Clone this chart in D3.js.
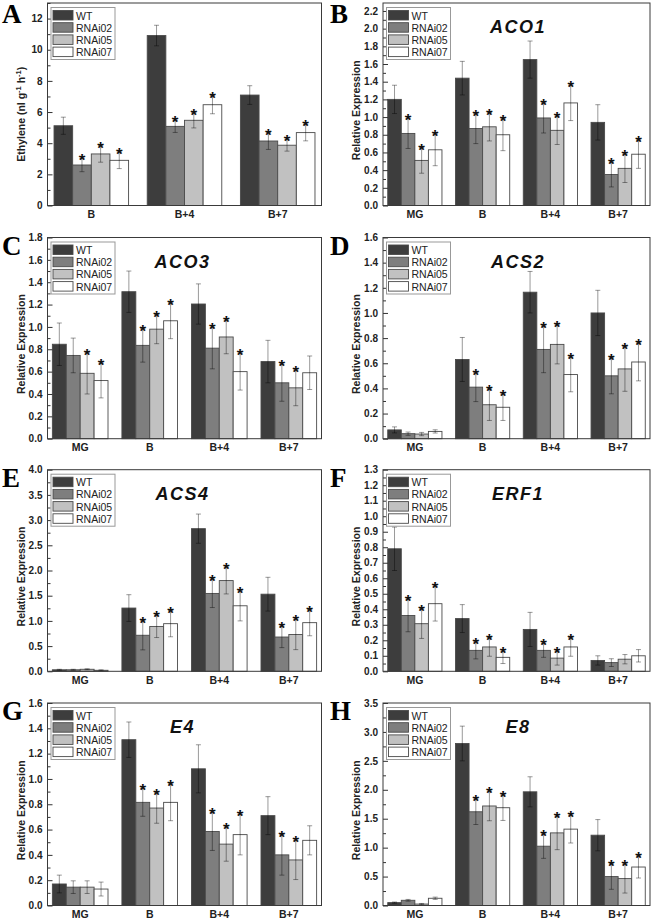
<!DOCTYPE html>
<html>
<head>
<meta charset="utf-8">
<script src="https://cdn.jsdelivr.net/npm/d3@7/dist/d3.min.js"></script>
<style>
  body { margin: 0; background: #fff; }
  svg text { font-family: "Liberation Sans", Arial, sans-serif; }
</style>
</head>
<body>
<div id="chart"></div>
<script>
// ---- data ----
var series = ["WT", "RNAi02", "RNAi05", "RNAi07"];
var cats3 = ["B", "B+4", "B+7"];
var cats4 = ["MG", "B", "B+4", "B+7"];

// rows = series (WT, RNAi02, RNAi05, RNAi07), columns = categories
var ethyleneMean = [[5.12, 10.91, 7.09], [2.60, 5.08, 4.14], [3.31, 5.47, 3.87], [2.90, 6.47, 4.68]];
var ethyleneErr  = [[0.55, 0.66, 0.60], [0.43, 0.39, 0.54], [0.53, 0.49, 0.38], [0.53, 0.58, 0.53]];
var ethyleneStar = [[0, 0, 0], [1, 1, 1], [1, 1, 1], [1, 1, 1]];
var ethyleneTicks = [0, 2, 4, 6, 8, 10, 12];

var aco1Mean = [[1.20, 1.44, 1.65, 0.94], [0.815, 0.87, 0.99, 0.35], [0.51, 0.89, 0.85, 0.42], [0.63, 0.80, 1.16, 0.58]];
var aco1Err  = [[0.16, 0.19, 0.21, 0.20], [0.17, 0.17, 0.17, 0.14], [0.145, 0.16, 0.16, 0.16], [0.18, 0.18, 0.20, 0.16]];
var aco1Star = [[0, 0, 0, 0], [1, 1, 1, 1], [1, 1, 1, 1], [1, 1, 1, 1]];
var aco1Ticks = [0, 0.2, 0.4, 0.6, 0.8, 1.0, 1.2, 1.4, 1.6, 1.8, 2.0, 2.2];

var aco3Mean = [[0.845, 1.315, 1.205, 0.69], [0.745, 0.835, 0.81, 0.50], [0.585, 0.98, 0.91, 0.455], [0.52, 1.055, 0.60, 0.59]];
var aco3Err  = [[0.19, 0.185, 0.18, 0.19], [0.155, 0.15, 0.185, 0.165], [0.185, 0.13, 0.15, 0.16], [0.155, 0.16, 0.165, 0.15]];
var aco3Star = [[0, 0, 0, 0], [0, 1, 1, 1], [1, 1, 1, 1], [1, 1, 1, 0]];
var aco3Ticks = [0, 0.2, 0.4, 0.6, 0.8, 1.0, 1.2, 1.4, 1.6, 1.8];

var acs2Mean = [[0.07, 0.63, 1.165, 1.0], [0.04, 0.41, 0.71, 0.50], [0.037, 0.27, 0.75, 0.555], [0.058, 0.25, 0.51, 0.61]];
var acs2Err  = [[0.024, 0.175, 0.165, 0.18], [0.013, 0.115, 0.185, 0.143], [0.013, 0.125, 0.155, 0.178], [0.013, 0.105, 0.137, 0.15]];
var acs2Star = [[0, 0, 0, 0], [0, 1, 1, 1], [0, 1, 1, 1], [0, 1, 1, 1]];
var acs2Ticks = [0, 0.2, 0.4, 0.6, 0.8, 1.0, 1.2, 1.4, 1.6];

var acs4Mean = [[0.03, 1.255, 2.83, 1.53], [0.03, 0.715, 1.545, 0.68], [0.04, 0.89, 1.80, 0.73], [0.02, 0.945, 1.30, 0.965]];
var acs4Err  = [[0.01, 0.265, 0.29, 0.335], [0.01, 0.29, 0.28, 0.21], [0.01, 0.22, 0.265, 0.30], [0.01, 0.26, 0.30, 0.26]];
var acs4Star = [[0, 0, 0, 0], [0, 1, 1, 1], [0, 1, 1, 1], [0, 1, 1, 1]];
var acs4Ticks = [0, 0.5, 1.0, 1.5, 2.0, 2.5, 3.0, 3.5, 4.0];

var erf1Mean = [[0.79, 0.34, 0.27, 0.07], [0.36, 0.135, 0.135, 0.056], [0.307, 0.157, 0.085, 0.078], [0.436, 0.09, 0.157, 0.10]];
var erf1Err  = [[0.14, 0.09, 0.11, 0.03], [0.105, 0.055, 0.045, 0.025], [0.095, 0.06, 0.045, 0.03], [0.112, 0.04, 0.06, 0.04]];
var erf1Star = [[0, 0, 0, 0], [1, 1, 1, 0], [1, 1, 1, 0], [1, 1, 1, 0]];
var erf1Ticks = [0, 0.1, 0.2, 0.3, 0.4, 0.5, 0.6, 0.7, 0.8, 0.9, 1.0, 1.1, 1.2, 1.3];

var e4Mean = [[0.17, 1.31, 1.08, 0.71], [0.145, 0.815, 0.585, 0.40], [0.145, 0.77, 0.485, 0.36], [0.13, 0.815, 0.56, 0.515]];
var e4Err  = [[0.07, 0.14, 0.19, 0.15], [0.05, 0.11, 0.15, 0.16], [0.05, 0.12, 0.135, 0.155], [0.055, 0.145, 0.16, 0.115]];
var e4Star = [[0, 0, 0, 0], [0, 1, 1, 1], [0, 1, 1, 1], [0, 1, 1, 0]];
var e4Ticks = [0, 0.2, 0.4, 0.6, 0.8, 1.0, 1.2, 1.4, 1.6];

var e8Mean = [[0.05, 2.80, 1.965, 1.215], [0.09, 1.62, 1.025, 0.50], [0.025, 1.72, 1.255, 0.465], [0.125, 1.69, 1.32, 0.665]];
var e8Err  = [[0.01, 0.30, 0.26, 0.27], [0.015, 0.22, 0.21, 0.22], [0.01, 0.255, 0.29, 0.25], [0.02, 0.22, 0.24, 0.19]];
var e8Star = [[0, 0, 0, 0], [0, 1, 1, 1], [0, 1, 1, 1], [0, 1, 1, 1]];
var e8Ticks = [0, 0.5, 1.0, 1.5, 2.0, 2.5, 3.0, 3.5];

// ---- layout ----
var width = 657, height = 920;
var colX = [[47.5, 321.5], [383, 650]];
var rowY = [[3, 205.5], [237.5, 438.7], [469.7, 671.3], [703, 905.5]];
var colors = d3.scaleOrdinal().domain(series).range(["#3d3d3d", "#7e7e7e", "#c1c1c1", "#ffffff"]);

var svg = d3.select("#chart").append("svg")
    .attr("width", width)
    .attr("height", height);

var panels = [
  {letter: "A", col: 0, row: 0, cats: cats3, mean: ethyleneMean, err: ethyleneErr, star: ethyleneStar, ticks: ethyleneTicks, yMax: 13, gene: null, fmt: d3.format("d")},
  {letter: "B", col: 1, row: 0, cats: cats4, mean: aco1Mean, err: aco1Err, star: aco1Star, ticks: aco1Ticks, yMax: 2.29, gene: "ACO1"},
  {letter: "C", col: 0, row: 1, cats: cats4, mean: aco3Mean, err: aco3Err, star: aco3Star, ticks: aco3Ticks, yMax: 1.8, gene: "ACO3"},
  {letter: "D", col: 1, row: 1, cats: cats4, mean: acs2Mean, err: acs2Err, star: acs2Star, ticks: acs2Ticks, yMax: 1.6, gene: "ACS2"},
  {letter: "E", col: 0, row: 2, cats: cats4, mean: acs4Mean, err: acs4Err, star: acs4Star, ticks: acs4Ticks, yMax: 4.0, gene: "ACS4"},
  {letter: "F", col: 1, row: 2, cats: cats4, mean: erf1Mean, err: erf1Err, star: erf1Star, ticks: erf1Ticks, yMax: 1.3, gene: "ERF1"},
  {letter: "G", col: 0, row: 3, cats: cats4, mean: e4Mean, err: e4Err, star: e4Star, ticks: e4Ticks, yMax: 1.6, gene: "E4"},
  {letter: "H", col: 1, row: 3, cats: cats4, mean: e8Mean, err: e8Err, star: e8Star, ticks: e8Ticks, yMax: 3.5, gene: "E8"}
];

panels.forEach(drawPanel);

function drawPanel(p) {
    var left = colX[p.col][0], right = colX[p.col][1];
    var top = rowY[p.row][0], bottom = rowY[p.row][1];
    var fmt = p.fmt || d3.format(".1f");

    var x0 = d3.scaleBand().domain(p.cats).range([left, right]).paddingInner(0.2).paddingOuter(0.07);
    var x1 = d3.scaleBand().domain(series).range([0, x0.bandwidth()]);
    var y = d3.scaleLinear().domain([0, p.yMax]).range([bottom, top]);

    var g = svg.append("g").attr("class", "panel");

    // flatten data
    var rows = [];
    series.forEach(function(s, si) {
        p.cats.forEach(function(c, ci) {
            rows.push({s: s, c: c, v: p.mean[si][ci], e: p.err[si][ci], star: p.star[si][ci]});
        });
    });

    // bars
    g.selectAll(".bar")
        .data(rows)
      .enter().append("rect")
        .attr("class", "bar")
        .attr("x", function(d) { return x0(d.c) + x1(d.s); })
        .attr("width", x1.bandwidth())
        .attr("y", function(d) { return y(d.v); })
        .attr("height", function(d) { return bottom - y(d.v); })
        .attr("fill", function(d) { return colors(d.s); })
        .attr("stroke", "#4a4a4a")
        .attr("stroke-width", 0.9);

    // error bars
    var eb = g.selectAll(".err")
        .data(rows)
      .enter().append("g")
        .attr("class", "err")
        .attr("stroke", "#000")
        .attr("stroke-opacity", 0.4)
        .attr("stroke-width", 1)
        .attr("transform", function(d) { return "translate(" + (x0(d.c) + x1(d.s) + x1.bandwidth() / 2) + ",0)"; });
    eb.append("line")
        .attr("y1", function(d) { return y(Math.max(0, d.v - d.e)); })
        .attr("y2", function(d) { return y(d.v + d.e); });
    eb.append("line")
        .attr("x1", -2.5).attr("x2", 2.5)
        .attr("y1", function(d) { return y(d.v + d.e); })
        .attr("y2", function(d) { return y(d.v + d.e); });
    eb.append("line")
        .attr("x1", -2.5).attr("x2", 2.5)
        .attr("y1", function(d) { return y(Math.max(0, d.v - d.e)); })
        .attr("y2", function(d) { return y(Math.max(0, d.v - d.e)); });

    // asterisks
    g.selectAll(".star")
        .data(rows.filter(function(d) { return d.star; }))
      .enter().append("text")
        .attr("class", "star")
        .attr("x", function(d) { return x0(d.c) + x1(d.s) + x1.bandwidth() / 2; })
        .attr("y", function(d) { return y(d.v + d.e) + 8; })
        .attr("text-anchor", "middle")
        .attr("font-size", 17)
        .attr("font-weight", "bold")
        .attr("fill", "#111")
        .text("*");

    // y axis (inward ticks)
    var minor = [];
    for (var i = 0; i < p.ticks.length - 1; i++) minor.push((p.ticks[i] + p.ticks[i + 1]) / 2);
    if (p.yMax > p.ticks[p.ticks.length - 1] + (p.ticks[1] - p.ticks[0]) / 2 - 1e-9) minor.push(p.ticks[p.ticks.length - 1] + (p.ticks[1] - p.ticks[0]) / 2);

    var yAxis = g.append("g")
        .attr("class", "y axis")
        .attr("transform", "translate(" + left + ",0)")
        .call(d3.axisLeft(y).tickValues(p.ticks).tickFormat(fmt).tickSizeInner(-5).tickSizeOuter(0).tickPadding(5));
    yAxis.select(".domain").remove();
    yAxis.selectAll("line").attr("stroke", "#333");
    yAxis.selectAll("text")
        .attr("font-size", 10)
        .attr("font-weight", "bold")
        .attr("fill", "#222");

    var yMinor = g.append("g")
        .attr("transform", "translate(" + left + ",0)")
        .call(d3.axisLeft(y).tickValues(minor).tickFormat("").tickSizeInner(-3).tickSizeOuter(0));
    yMinor.select(".domain").remove();
    yMinor.selectAll("line").attr("stroke", "#333");

    // x axis labels
    var xAxis = g.append("g")
        .attr("transform", "translate(0," + bottom + ")")
        .call(d3.axisBottom(x0).tickSize(0).tickPadding(5));
    xAxis.select(".domain").remove();
    xAxis.selectAll("text")
        .attr("font-size", 10.5)
        .attr("font-weight", "bold")
        .attr("fill", "#222");

    // frame
    g.append("rect")
        .attr("x", left).attr("y", top)
        .attr("width", right - left).attr("height", bottom - top)
        .attr("fill", "none")
        .attr("stroke", "#3a3a3a")
        .attr("stroke-width", 1);

    // y title
    var yt = g.append("text")
        .attr("transform", "translate(" + (left - 23) + "," + ((top + bottom) / 2 + (p.gene ? 6 : 10)) + ") rotate(-90)")
        .attr("text-anchor", "middle")
        .attr("font-size", 10.5)
        .attr("font-weight", "bold")
        .attr("fill", "#222");
    if (p.gene) {
        yt.text("Relative Expression");
    } else {
        yt.append("tspan").text("Ethylene (nl g");
        yt.append("tspan").attr("dy", -4).attr("font-size", 7.5).text("-1");
        yt.append("tspan").attr("dy", 4).text(" h");
        yt.append("tspan").attr("dy", -4).attr("font-size", 7.5).text("-1");
        yt.append("tspan").attr("dy", 4).text(")");
    }

    // gene title
    if (p.gene) {
        g.append("text")
            .attr("x", left + 135)
            .attr("y", top + 30)
            .attr("text-anchor", "middle")
            .attr("font-size", 18)
            .attr("font-weight", "bold")
            .attr("font-style", "italic")
            .attr("letter-spacing", 1.5)
            .attr("fill", "#111")
            .text(p.gene);
    }

    // panel letter
    g.append("text")
        .attr("x", p.col === 0 ? 2 : 330)
        .attr("y", top + 20 - (p.row === 0 ? 0 : 3))
        .style("font-family", "'Liberation Serif', 'Times New Roman', serif")
        .attr("font-size", 27)
        .attr("font-weight", "bold")
        .attr("fill", "#000")
        .text(p.letter);

    // legend
    var lg = g.append("g").attr("transform", "translate(" + (left + 3.5) + "," + (top + 4.5) + ")");
    lg.append("rect")
        .attr("width", 64).attr("height", 52)
        .attr("fill", "#fff")
        .attr("stroke", "#999")
        .attr("stroke-width", 1);
    var item = lg.selectAll(".item")
        .data(series)
      .enter().append("g")
        .attr("transform", function(d, i) { return "translate(2," + (3 + i * 12.2) + ")"; });
    item.append("rect")
        .attr("width", 20).attr("height", 9.5)
        .attr("fill", function(d) { return colors(d); })
        .attr("stroke", "#4a4a4a")
        .attr("stroke-width", 0.9);
    item.append("text")
        .attr("x", 23).attr("y", 9)
        .attr("font-size", 10.5)
        .attr("fill", "#222")
        .text(function(d) { return d; });
}
</script>
</body>
</html>
